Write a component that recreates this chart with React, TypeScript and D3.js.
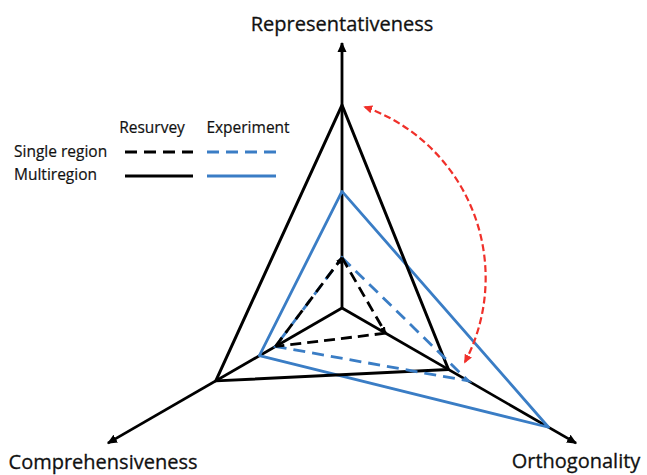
import React from 'react';
import * as d3 from 'd3';

const W = 647;
const H = 475;

// axes, clockwise from the top
const axes = ['Representativeness', 'Orthogonality', 'Comprehensiveness'];

// values per axis: [Representativeness, Orthogonality, Comprehensiveness], 1 = axis end
const resurveyMulti = [0.766, 0.464, 0.55];
const experimentMulti = [0.44, 0.9, 0.36];
const resurveySingle = [0.19, 0.19, 0.29];
const experimentSingle = [0.19, 0.55, 0.29];

const legendCols = ['Resurvey', 'Experiment'];
const legendRows = ['Single region', 'Multiregion'];

const BLUE = '#3a7dc5';
const RED = '#f0302a';
const FONT = '"Open Sans", sans-serif';

const cx = 342;
const cy = 308;

const r = d3.scaleLinear().domain([0, 1]).range([0, 265]);
const angle = d3.scalePoint<number>().domain([0, 1, 2]).range([0, (4 * Math.PI) / 3]);

const polar = (i: number, v: number): [number, number] => {
  const a = (angle(i) as number) - Math.PI / 2;
  return [r(v) * Math.cos(a), r(v) * Math.sin(a)];
};

const radial = d3
  .lineRadial<number>()
  .angle((_, i) => angle(i) as number)
  .radius((d) => r(d))
  .curve(d3.curveLinearClosed);

// circle through three points (annotation arc)
function arcThrough(p1: number[], p2: number[], p3: number[]) {
  const [ax, ay] = p1, [bx, by] = p2, [qx, qy] = p3;
  const d = 2 * (ax * (by - qy) + bx * (qy - ay) + qx * (ay - by));
  const ux = ((ax * ax + ay * ay) * (by - qy) + (bx * bx + by * by) * (qy - ay) + (qx * qx + qy * qy) * (ay - by)) / d;
  const uy = ((ax * ax + ay * ay) * (qx - bx) + (bx * bx + by * by) * (ax - qx) + (qx * qx + qy * qy) * (bx - ax)) / d;
  const rad = Math.hypot(ax - ux, ay - uy);
  return `M${ax},${ay} A${rad},${rad} 0 0 1 ${qx},${qy}`;
}

export default function App() {
  const arcPath = arcThrough([23, -201], [141, -61], [123, 54]);
  const tri = (vals: number[], i: number, j: number) => {
    const a = polar(i, vals[i]);
    const b = polar(j, vals[j]);
    return `M${a[0]},${a[1]}L${b[0]},${b[1]}`;
  };

  return (
    <div style={{ position: 'fixed', left: 0, top: 0 }}>
      <svg width={W} height={H} style={{ display: 'block', background: '#fff' }}>
        <defs>
          <marker id="axArrow" viewBox="0 0 10 10" refX="9" refY="5" markerWidth="10" markerHeight="10" markerUnits="userSpaceOnUse" orient="auto">
            <path d="M0,0.5L10,5L0,9.5z" fill="#000" />
          </marker>
          <marker id="smallArrow" viewBox="0 0 10 10" refX="9" refY="5" markerWidth="7" markerHeight="7" markerUnits="userSpaceOnUse" orient="auto">
            <path d="M0,1L10,5L0,9z" fill="#000" />
          </marker>
          <marker id="redArrow" viewBox="0 0 10 10" refX="8" refY="5" markerWidth="9" markerHeight="9" markerUnits="userSpaceOnUse" orient="auto-start-reverse">
            <path d="M0,0.5L10,5L0,9.5z" fill={RED} />
          </marker>
        </defs>

        <g transform={`translate(${cx},${cy})`}>
          {axes.map((name, i) => {
            const [x, y] = polar(i, i === 0 ? 1 : 1.02);
            return (
              <line key={name} x1={0} y1={0} x2={x} y2={y} stroke="#000" strokeWidth={2.8} markerEnd="url(#axArrow)" />
            );
          })}

          <path d={radial(experimentMulti) || ''} fill="none" stroke={BLUE} strokeWidth={2.8} strokeLinejoin="round" />
          <path d={radial(resurveyMulti) || ''} fill="none" stroke="#000" strokeWidth={3} strokeLinejoin="round" />
          <path d={radial(experimentSingle) || ''} fill="none" stroke={BLUE} strokeWidth={2.8} strokeDasharray="12 7" />
          <path d={tri(resurveySingle, 2, 0)} fill="none" stroke="#000" strokeWidth={2.8} strokeDasharray="11 6" markerEnd="url(#smallArrow)" />
          <path d={tri(resurveySingle, 0, 1)} fill="none" stroke="#000" strokeWidth={2.8} strokeDasharray="11 6" markerEnd="url(#smallArrow)" />
          <path d={tri(resurveySingle, 1, 2)} fill="none" stroke="#000" strokeWidth={2.8} strokeDasharray="11 6" />

          <path d={arcPath} fill="none" stroke={RED} strokeWidth={2.2} strokeDasharray="7 3.5" markerStart="url(#redArrow)" markerEnd="url(#redArrow)" />
        </g>

        <g fontFamily={FONT} fill="#111" fontSize={20} stroke="#111" strokeWidth={0.3}>
          <text x={342} y={31} textAnchor="middle">{axes[0]}</text>
          <text x={576} y={468} textAnchor="middle">{axes[1]}</text>
          <text x={103} y={469} textAnchor="middle">{axes[2]}</text>
        </g>

        <g fontFamily={FONT} fill="#111" fontSize={15.5} stroke="#111" strokeWidth={0.2}>
          <text x={152} y={133} textAnchor="middle">{legendCols[0]}</text>
          <text x={248} y={133} textAnchor="middle">{legendCols[1]}</text>
          <text x={14} y={157}>{legendRows[0]}</text>
          <text x={14} y={180}>{legendRows[1]}</text>
        </g>
        <g>
          <line x1={125} x2={193} y1={152} y2={152} stroke="#000" strokeWidth={3.2} strokeDasharray="12 7" />
          <line x1={207} x2={276} y1={152} y2={152} stroke={BLUE} strokeWidth={3} strokeDasharray="12 7" />
          <line x1={125} x2={193} y1={176} y2={176} stroke="#000" strokeWidth={3.2} />
          <line x1={207} x2={276} y1={176} y2={176} stroke={BLUE} strokeWidth={3} />
        </g>
      </svg>
    </div>
  );
}
